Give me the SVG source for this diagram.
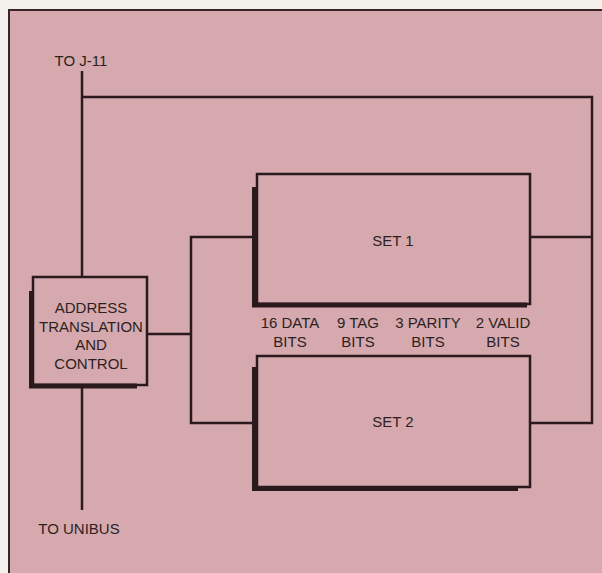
<svg xmlns="http://www.w3.org/2000/svg" width="602" height="573" viewBox="0 0 602 573">
<style>
.bg{fill:#f4f1ec}
.panel{fill:#d5a9ae;stroke:#3a2428;stroke-width:2}
.box{fill:none;stroke:#2a1a1d;stroke-width:2.5}
.shadow{fill:none;stroke:#2a1a1d;stroke-width:5;stroke-linejoin:miter}
.wire{fill:none;stroke:#2a1a1d;stroke-width:2.5}
text{font-family:"Liberation Sans",Arial,sans-serif;font-size:15px;fill:#2e1f22;text-anchor:middle}
</style>
<rect class="bg" x="0" y="0" width="602" height="573"/>
<rect class="panel" x="9" y="10" width="610" height="580"/>
<g id="connectors">
<path class="wire" d="M82,71 V277"/>
<path class="wire" d="M82,385 V510"/>
<path class="wire" d="M82,97 H592 V423 H530"/>
<path class="wire" d="M530,237 H592"/>
<path class="wire" d="M257,237 H191 V423 H257"/>
<path class="wire" d="M147,334 H191"/>
</g>
<g id="to-j11"><text x="81" y="66">TO J-11</text></g>
<g id="to-unibus"><text x="79" y="534">TO UNIBUS</text></g>
<g id="address">
<path class="shadow" d="M31.5,291 V386 H137"/>
<rect class="box" x="33" y="277" width="114" height="108"/>
<text x="91" y="313">ADDRESS</text>
<text x="91" y="332">TRANSLATION</text>
<text x="91" y="350">AND</text>
<text x="91" y="369">CONTROL</text>
</g>
<g id="set1">
<path class="shadow" d="M254.5,187 V305 H527"/>
<rect class="box" x="257" y="174" width="273" height="130"/>
<text x="393" y="246">SET 1</text>
</g>
<g id="set2">
<path class="shadow" d="M254.5,367 V488.5 H518"/>
<rect class="box" x="257" y="356" width="273" height="131"/>
<text x="393" y="427">SET 2</text>
</g>
<g id="labels">
<text x="290" y="328">16 DATA</text>
<text x="290" y="347">BITS</text>
<text x="358" y="328">9 TAG</text>
<text x="358" y="347">BITS</text>
<text x="428" y="328">3 PARITY</text>
<text x="428" y="347">BITS</text>
<text x="503" y="328">2 VALID</text>
<text x="503" y="347">BITS</text>
</g>
</svg>
